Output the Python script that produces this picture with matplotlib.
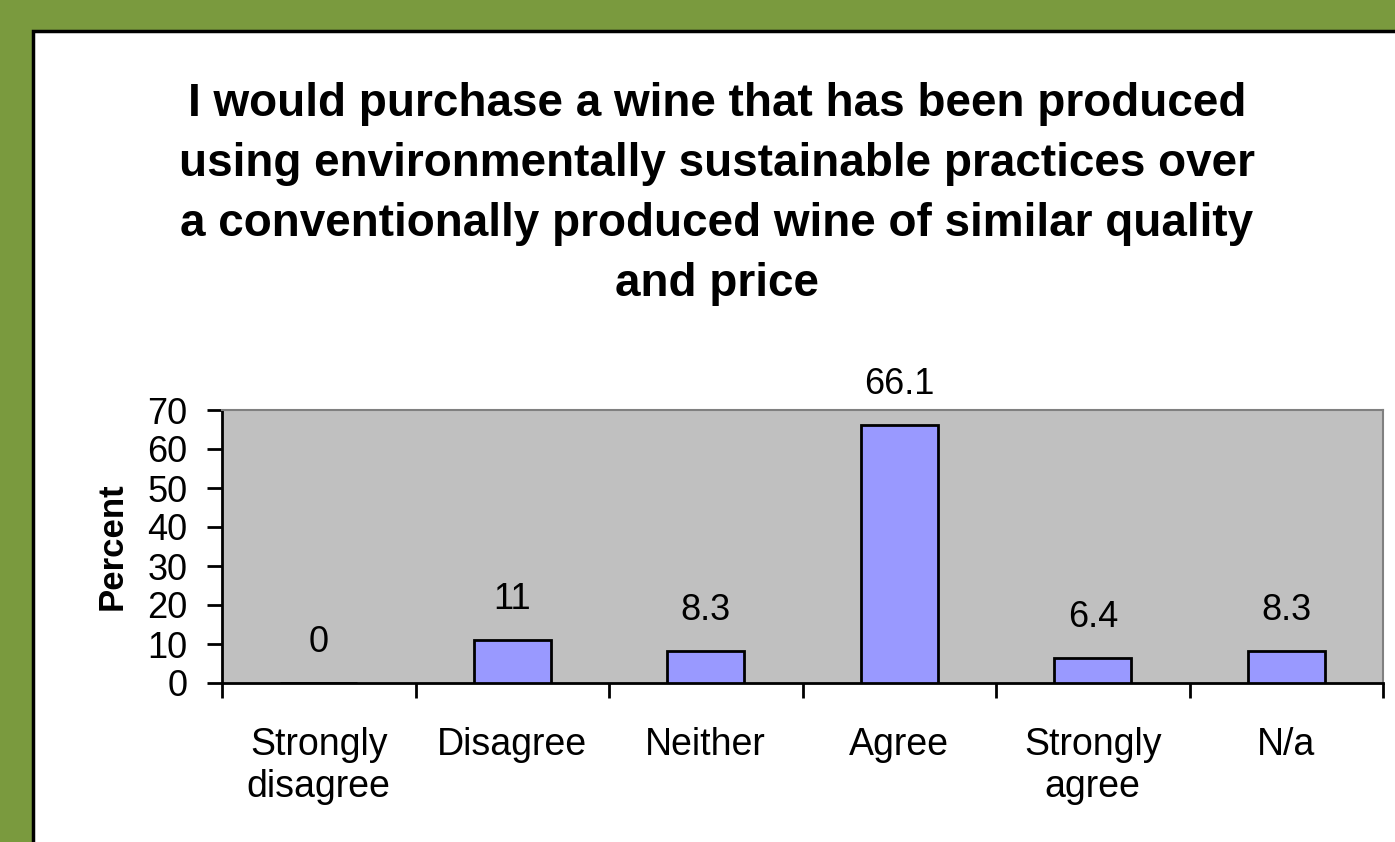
import numpy as np
import matplotlib.pyplot as plt
from matplotlib.patches import Rectangle

categories = ["Strongly\ndisagree", "Disagree", "Neither", "Agree", "Strongly\nagree", "N/a"]
values = [0, 11, 8.3, 66.1, 6.4, 8.3]
value_labels = ["0", "11", "8.3", "66.1", "6.4", "8.3"]
yticks = [0, 10, 20, 30, 40, 50, 60, 70]

title = ("I would purchase a wine that has been produced\n"
         "using environmentally sustainable practices over\n"
         "a conventionally produced wine of similar quality\n"
         "and price")

plt.rcParams['font.family'] = ['Liberation Sans', 'DejaVu Sans']

fig = plt.figure(figsize=(13.95, 8.42), dpi=100)
fig.patch.set_facecolor("#7a9a3e")

# white slide panel with black frame
W, H = 1395, 842
panel = Rectangle((33 / W, -0.01), 1.0, 1 - 31 / H + 0.01, transform=fig.transFigure,
                  facecolor="white", edgecolor="black", linewidth=2.5, zorder=-5)
fig.patches.append(panel)

fig.text(717 / W, 1 - 82 / H, title, ha="center", va="top", fontsize=33,
         fontweight="bold", linespacing=1.47)

ax = fig.add_axes([222 / W, 1 - 683 / H, (1383 - 222) / W, (683 - 410) / H])
ax.set_facecolor("#c0c0c0")

x = np.arange(len(categories))
ax.bar(x, values, width=0.4, color="#9999ff", edgecolor="black", linewidth=2, zorder=3)

for xi, v, lab in zip(x, values, value_labels):
    ax.annotate(lab, (xi, v), xytext=(0, 29), textcoords="offset points",
                ha="center", va="center", fontsize=26)

ax.set_xlim(-0.5, len(categories) - 0.5)
ax.set_ylim(0, 70)
ax.set_yticks(yticks)
ax.tick_params(axis="y", labelsize=26, length=11, width=2, pad=14)

# boundary ticks below the axis, category names centred between them
ax.set_xticks(np.arange(-0.5, len(categories), 1.0))
ax.set_xticklabels([])
ax.tick_params(axis="x", which="major", length=11, width=2)
ax.set_xticks(x, minor=True)
ax.set_xticklabels(categories, minor=True, fontsize=27, linespacing=1.2, va="top")
ax.tick_params(axis="x", which="minor", length=0, pad=32)

ax.set_ylabel("Percent", fontsize=25, fontweight="bold", labelpad=13)

for s in ("left", "bottom"):
    ax.spines[s].set_color("black")
    ax.spines[s].set_linewidth(2)
for s in ("top", "right"):
    ax.spines[s].set_color("#808080")
    ax.spines[s].set_linewidth(1.5)

fig.savefig("out.png", dpi=100, facecolor=fig.get_facecolor())
